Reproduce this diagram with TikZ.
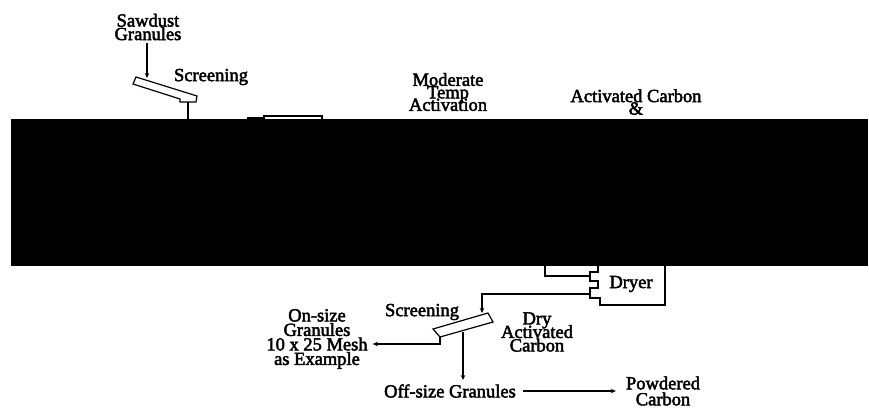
\documentclass[tikz,border=0pt]{standalone}
\usepackage{fontspec}
\newfontfamily\lblfont{Liberation Serif}[FakeBold=2.5]
\usetikzlibrary{arrows.meta}
\newcommand\lblsize[1]{\lblfont\fontsize{18.5}{#1}\selectfont\lineskiplimit=-30pt\relax}
\begin{document}
\begin{tikzpicture}[x=1pt,y=-1pt,
  lbl/.style={font=\lblsize{13.5}, align=center, inner sep=0pt},
  ln/.style={line width=1.2pt, line join=miter},
  arr/.style={ln,-{Stealth[length=5pt,width=4.5pt]}}]
\useasboundingbox (0,0) rectangle (869,409);

% ---- texts
\node[lbl, font=\lblsize{13.5}] (sawdust) at (148,27) {Sawdust\\Granules};
\node[lbl] (scr1) at (211,77) {Screening};
\node[lbl, font=\lblsize{12.5}] (modtemp) at (448,92) {Moderate\\Temp\\Activation};
\node[lbl, font=\lblsize{12.5}] (actchem) at (636,102) {Activated Carbon\\\&};
\node[lbl] (dryer) at (631,284) {Dryer};
\node[lbl] (scr2) at (422,312) {Screening};
\node[lbl] (drycarb) at (537,332) {Dry\\Activated\\Carbon};
\node[lbl, font=\lblsize{14.5}] (onsize) at (317,339) {On-size\\Granules\\10 x 25 Mesh\\as Example};
\node[lbl] (offsize) at (450,391) {Off-size Granules};
\node[lbl, font=\lblsize{16}] (powdered) at (663,391) {Powdered\\Carbon};

% ---- screening bar 1
\coordinate (s1in) at (147,78);
\draw[ln] (136,77) -- (197,96) -- (196,102) -- (180,102) -- (180,99) -- (133,84) -- cycle;
\draw[arr] (sawdust.south -| s1in) ++(0,3) -- (s1in);
\coordinate (s1out) at (188,102);
\coordinate (s1down) at (188,125);
\draw[ln] (s1out) -- (s1down);

% ---- box partly visible
\coordinate (boxL) at (264,125);
\coordinate (boxR) at (322,125);
\draw[ln] (boxL) -- (264,116) -- (322,116) -- (boxR);
\coordinate (feedA) at (247,118);
\draw[ln] (feedA) -- (264,118);

% ---- black block
\fill[black] (11,119) rectangle (868,266);

% ---- dryer
\draw[ln] (598,262) -- (598,272) -- (590,272) -- (590,281) -- (598,281) -- (598,288)
  -- (590,288) -- (590,298) -- (600,298) -- (600,305) -- (665,305) -- (665,262);
\coordinate (dryin1) at (590,276);
\coordinate (dryout) at (590,294);
\coordinate (feedB) at (545,262);
\draw[ln] (feedB) -- (545,276) -- (dryin1);

% ---- screening bar 2
\coordinate (s2in) at (482,313);
\draw[ln] (433,329) -- (488,313) -- (493,322) -- (440,337) -- cycle;
\draw[arr] (dryout) -- (482,294) -- (s2in);
\coordinate (s2lip) at (440,337);
\draw[arr] (s2lip) -- (440,344) -- ([xshift=5pt]onsize.east |- 0,344);
\coordinate (s2out) at (463,332);
\draw[arr] (s2out) -- (463,380);
\draw[arr] ([xshift=7pt]offsize.east) -- ([xshift=-10pt]powdered.west |- offsize.east);
\end{tikzpicture}
\end{document}
